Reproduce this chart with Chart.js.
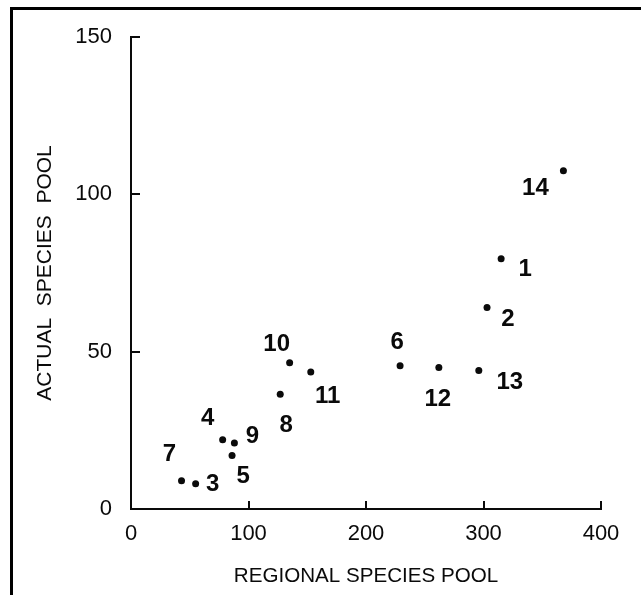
<!DOCTYPE html>
<html><head><meta charset="utf-8">
<script src="https://cdn.jsdelivr.net/npm/chart.js@4/dist/chart.umd.min.js"></script>
<style>
html,body{margin:0;padding:0;background:#fff;}
#wrap{position:relative;width:641px;height:595px;overflow:hidden;background:#fff;}
#frame{position:absolute;left:10px;top:7px;width:700px;height:700px;border-top:3px solid #000;border-left:3px solid #000;}
canvas{position:absolute;left:0;top:0;}
</style></head><body>
<div id="wrap"><div id="frame"></div><canvas id="c" width="641" height="595"></canvas></div>
<script>
// ---- data ----
const siteLabels   = ['1','2','3','4','5','6','7','8','9','10','11','12','13','14'];
const regionalPool = [315, 303, 55, 78, 86, 229, 43, 127, 88, 135, 153, 262, 296, 368];
const actualPool   = [79.5, 64, 8, 22, 17, 45.5, 9, 36.5, 21, 46.5, 43.5, 45, 44, 107.5];
const xTickValues  = [0, 100, 200, 300, 400];
const yTickValues  = [0, 50, 100, 150];
const xTitle = 'REGIONAL SPECIES POOL';
const yTitle = 'ACTUAL  SPECIES  POOL';

// label placement relative to each point (style only)
const labelOffsets = [[24,11],[21,12],[17,1],[-15,-21],[11,21],[-3,-23],[-12,-26],[6,31],[18,-7],[-13,-18],[17,24],[-1,32],[31,12],[-28,18]];

const ink = '#0a0a0a';
const fam = '"Liberation Sans", Arial, Helvetica, sans-serif';

const tickMarks = {
  id: 'tickMarks',
  afterDatasetsDraw(chart) {
    const {ctx, scales: {x, y}} = chart;
    ctx.save();
    ctx.strokeStyle = ink; ctx.lineWidth = 2;
    x.ticks.forEach(t => {
      if (t.value === 0) return;
      const px = Math.round(x.getPixelForValue(t.value));
      ctx.beginPath(); ctx.moveTo(px, x.top); ctx.lineTo(px, x.top - 8); ctx.stroke();
    });
    y.ticks.forEach(t => {
      if (t.value === 0) return;
      const py = Math.round(y.getPixelForValue(t.value));
      ctx.beginPath(); ctx.moveTo(y.right, py); ctx.lineTo(y.right + 9, py); ctx.stroke();
    });
    ctx.restore();
  }
};

const pointLabels = {
  id: 'pointLabels',
  afterDatasetsDraw(chart) {
    const {ctx} = chart;
    const meta = chart.getDatasetMeta(0);
    ctx.save();
    ctx.fillStyle = ink;
    ctx.font = 'bold 24px ' + fam;
    ctx.textAlign = 'center'; ctx.textBaseline = 'middle';
    meta.data.forEach((pt, i) => {
      const off = labelOffsets[i];
      ctx.fillText(siteLabels[i], pt.x + off[0], pt.y + off[1]);
    });
    ctx.restore();
  }
};

new Chart(document.getElementById('c'), {
  type: 'scatter',
  data: {
    datasets: [{
      data: regionalPool.map((v, i) => ({x: v, y: actualPool[i]})),
      backgroundColor: ink, borderColor: ink,
      pointRadius: 3.5, pointBorderWidth: 0
    }]
  },
  options: {
    responsive: false, animation: false, devicePixelRatio: 1,
    layout: {padding: {left: 0, right: 40, top: 37, bottom: 0}},
    plugins: {legend: {display: false}, tooltip: {enabled: false}},
    scales: {
      x: {
        type: 'linear', min: 0, max: 400,
        afterBuildTicks: s => { s.ticks = xTickValues.map(v => ({value: v})); },
        afterFit: s => { s.height = 86; },
        grid: {display: false, drawTicks: false},
        border: {display: true, color: ink, width: 2},
        ticks: {padding: 12, color: ink, maxRotation: 0, font: {family: fam, size: 22}},
        title: {display: true, text: xTitle, color: ink, font: {family: fam, size: 20.6}, padding: {top: 0, bottom: 6}}
      },
      y: {
        type: 'linear', min: 0, max: 150,
        afterBuildTicks: s => { s.ticks = yTickValues.map(v => ({value: v})); },
        afterFit: s => { s.width = 131; },
        grid: {display: false, drawTicks: false},
        border: {display: true, color: ink, width: 2},
        ticks: {padding: 19, color: ink, font: {family: fam, size: 22}},
        title: {display: true, text: yTitle, color: ink, font: {family: fam, size: 21}, padding: {top: 33, bottom: 0}}
      }
    }
  },
  plugins: [tickMarks, pointLabels]
});
</script>
</body></html>
